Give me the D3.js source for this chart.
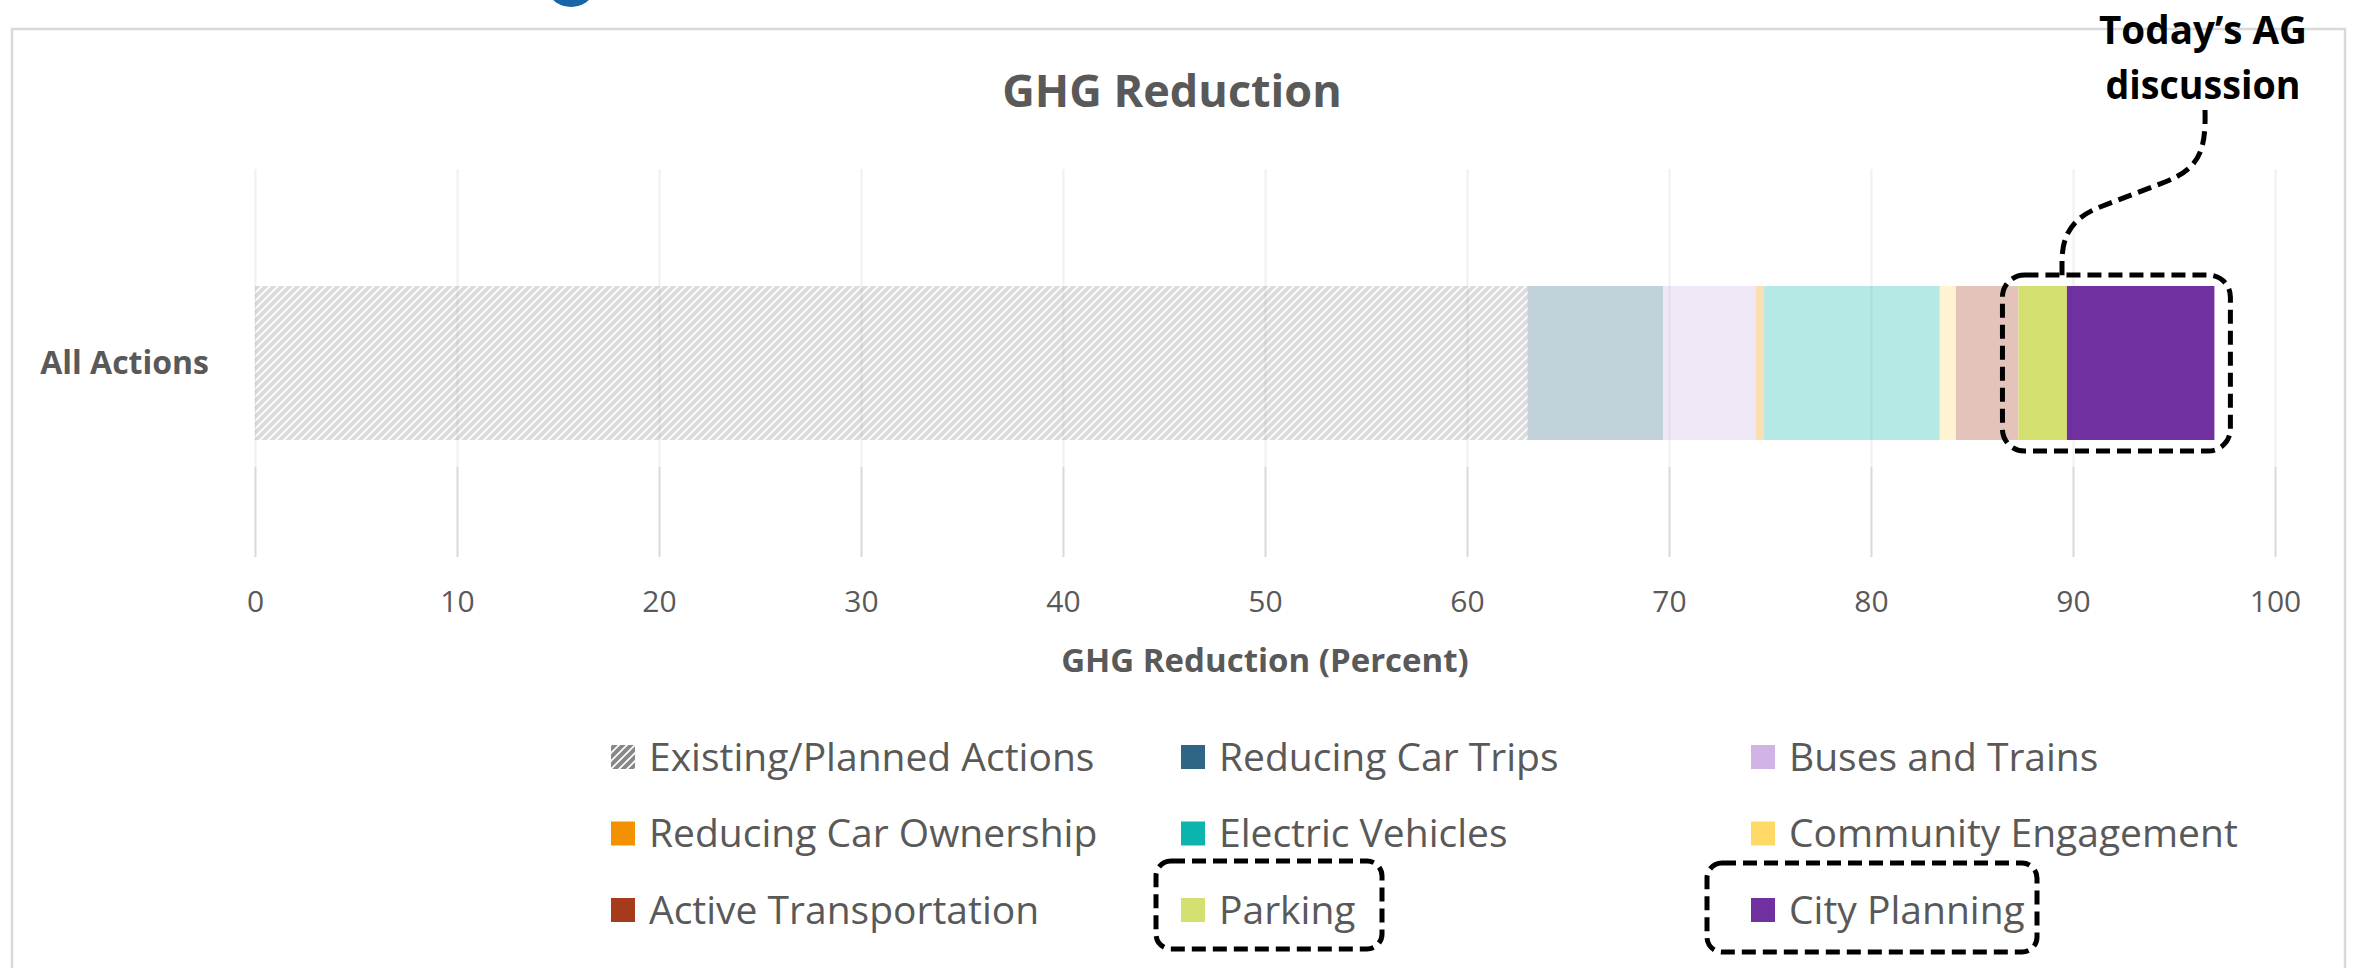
<!DOCTYPE html>
<html>
<head>
<meta charset="utf-8">
<script src="https://cdn.jsdelivr.net/npm/d3@7"></script>
<style>
  body { margin: 0; background: #fff; }
  svg { display: block; font-family: "Open Sans", sans-serif; }
</style>
</head>
<body>
<svg id="chart" width="2354" height="968"></svg>
<script>
// data
const categories = ['All Actions'];
const seriesNames = [
  'Existing/Planned Actions', 'Reducing Car Trips', 'Buses and Trains',
  'Reducing Car Ownership', 'Electric Vehicles', 'Community Engagement',
  'Active Transportation', 'Parking', 'City Planning'
];
const seriesValues = [63.0, 6.7, 4.6, 0.4, 8.7, 0.8, 3.1, 2.4, 7.3];
const xTicks = [0, 10, 20, 30, 40, 50, 60, 70, 80, 90, 100];
const highlighted = ['Parking', 'City Planning'];

// styles
const colors = {
  'Existing/Planned Actions': 'url(#hatch)',
  'Reducing Car Trips': '#2f6685',
  'Buses and Trains': '#d1b3e5',
  'Reducing Car Ownership': '#f39200',
  'Electric Vehicles': '#0bb5ad',
  'Community Engagement': '#ffd966',
  'Active Transportation': '#a63a1c',
  'Parking': '#d4e06f',
  'City Planning': '#7030a0'
};
const textGray = '#595959';

const svg = d3.select('#chart');
const plot = { left: 255, right: 2275, top: 169, bottom: 557, lightEnd: 467 };

// hatch pattern for existing actions
const defs = svg.append('defs');
const pat = defs.append('pattern')
  .attr('id', 'hatch')
  .attr('patternUnits', 'userSpaceOnUse')
  .attr('width', 8).attr('height', 8);
pat.append('path')
  .attr('d', 'M0,8 L8,0 M-2,2 L2,-2 M6,10 L10,6')
  .attr('stroke', '#878787')
  .attr('stroke-width', 4);

// slide bits: logo fragment and chart frame
svg.append('ellipse')
  .attr('cx', 571).attr('cy', -8).attr('rx', 21).attr('ry', 15)
  .attr('fill', '#1565a8');
svg.append('rect')
  .attr('x', 12).attr('y', 29).attr('width', 2333).attr('height', 1000)
  .attr('fill', 'none').attr('stroke', '#d9d9d9').attr('stroke-width', 2.5);

// scales
const x = d3.scaleLinear().domain([0, 100]).range([plot.left, plot.right]);
const y = d3.scaleBand().domain(categories)
  .range([plot.top, plot.bottom]).paddingInner(0).paddingOuter(0.76);

// gridlines (light upper part, darker lower part)
const gridTop = svg.append('g')
  .attr('transform', `translate(0,${plot.lightEnd})`)
  .call(d3.axisBottom(x).tickValues(xTicks).tickSize(-(plot.lightEnd - plot.top)).tickFormat(''));
gridTop.select('.domain').remove();
gridTop.selectAll('line').attr('stroke', '#f0f0f0').attr('stroke-width', 2);

const gridBottom = svg.append('g')
  .attr('transform', `translate(0,${plot.lightEnd})`)
  .call(d3.axisBottom(x).tickValues(xTicks).tickSize(plot.bottom - plot.lightEnd).tickFormat(''));
gridBottom.select('.domain').remove();
gridBottom.selectAll('line').attr('stroke', '#d9d9d9').attr('stroke-width', 2);

// tick labels
const xAxis = svg.append('g')
  .attr('transform', `translate(0,${plot.bottom})`)
  .call(d3.axisBottom(x).tickValues(xTicks).tickSize(0));
xAxis.select('.domain').remove();
xAxis.selectAll('text')
  .attr('y', 55).attr('dy', 0)
  .attr('fill', textGray)
  .style('font-family', '"Open Sans", sans-serif')
  .style('font-size', '30px');

// stacked bar
const row = { category: categories[0] };
seriesNames.forEach((k, i) => { row[k] = seriesValues[i]; });
const stack = d3.stack().keys(seriesNames)([row]);

svg.append('g')
  .selectAll('g')
  .data(stack)
  .join('g')
  .attr('fill', (d) => colors[d.key])
  .attr('opacity', (d) => (highlighted.includes(d.key) ? 1 : 0.3))
  .selectAll('rect')
  .data((d) => d)
  .join('rect')
  .attr('x', (d) => x(d[0]))
  .attr('y', (d) => y(d.data.category))
  .attr('width', (d) => x(d[1]) - x(d[0]))
  .attr('height', y.bandwidth());

// category label
svg.append('text')
  .attr('x', 209)
  .attr('y', y(categories[0]) + y.bandwidth() / 2)
  .attr('dy', '0.35em')
  .attr('text-anchor', 'end')
  .attr('fill', textGray)
  .style('font-size', '32px').style('font-weight', 700)
  .text(categories[0]);

// title and axis title
svg.append('text')
  .attr('x', 1172).attr('y', 107)
  .attr('text-anchor', 'middle')
  .attr('fill', textGray)
  .style('font-size', '45px').style('font-weight', 700)
  .text('GHG Reduction');

svg.append('text')
  .attr('x', x(50)).attr('y', 672)
  .attr('text-anchor', 'middle')
  .attr('fill', textGray)
  .style('font-size', '33px').style('font-weight', 700)
  .text('GHG Reduction (Percent)');

// legend, 3 columns
const legend = svg.append('g');
const legendItems = legend.selectAll('g')
  .data(seriesNames)
  .join('g')
  .attr('transform', (d, i) => `translate(${611 + (i % 3) * 570},${757 + Math.floor(i / 3) * 76.5})`);
legendItems.append('rect')
  .attr('x', 0).attr('y', -12).attr('width', 24).attr('height', 24)
  .attr('fill', (d) => colors[d]);
legendItems.append('text')
  .attr('x', 38).attr('dy', '0.35em')
  .attr('fill', textGray)
  .style('font-size', '39px')
  .text((d) => d);

// annotation: dashed callouts
const dash = (sel) => sel.attr('fill', 'none').attr('stroke', '#000')
  .attr('stroke-width', 5).attr('stroke-dasharray', '14 7');

const hiStart = d3.sum(seriesValues.slice(0, seriesNames.indexOf('Parking')));
const hiEnd = d3.sum(seriesValues);
svg.append('rect')
  .attr('x', x(hiStart) - 16).attr('y', y(categories[0]) - 11)
  .attr('width', x(hiEnd) - x(hiStart) + 32).attr('height', y.bandwidth() + 22)
  .attr('rx', 22)
  .call(dash);

svg.append('rect').attr('x', 1156).attr('y', 861).attr('width', 226).attr('height', 88).attr('rx', 15).call(dash);
svg.append('rect').attr('x', 1707).attr('y', 863).attr('width', 330).attr('height', 89).attr('rx', 15).call(dash);

svg.append('path')
  .attr('d', 'M2205,110 C2206,150 2200,168 2165,182 L2100,207 C2072,218 2062,235 2062,262 L2062,276')
  .call(dash);

const note = svg.append('text')
  .attr('text-anchor', 'middle')
  .attr('fill', '#000')
  .style('font-size', '40px').style('font-weight', 700);
note.append('tspan').attr('x', 2203).attr('y', 44)
  .attr('textLength', 208).attr('lengthAdjust', 'spacingAndGlyphs')
  .text('Today\u2019s AG');
note.append('tspan').attr('x', 2203).attr('y', 99)
  .attr('textLength', 195).attr('lengthAdjust', 'spacingAndGlyphs')
  .text('discussion');
</script>
</body>
</html>
